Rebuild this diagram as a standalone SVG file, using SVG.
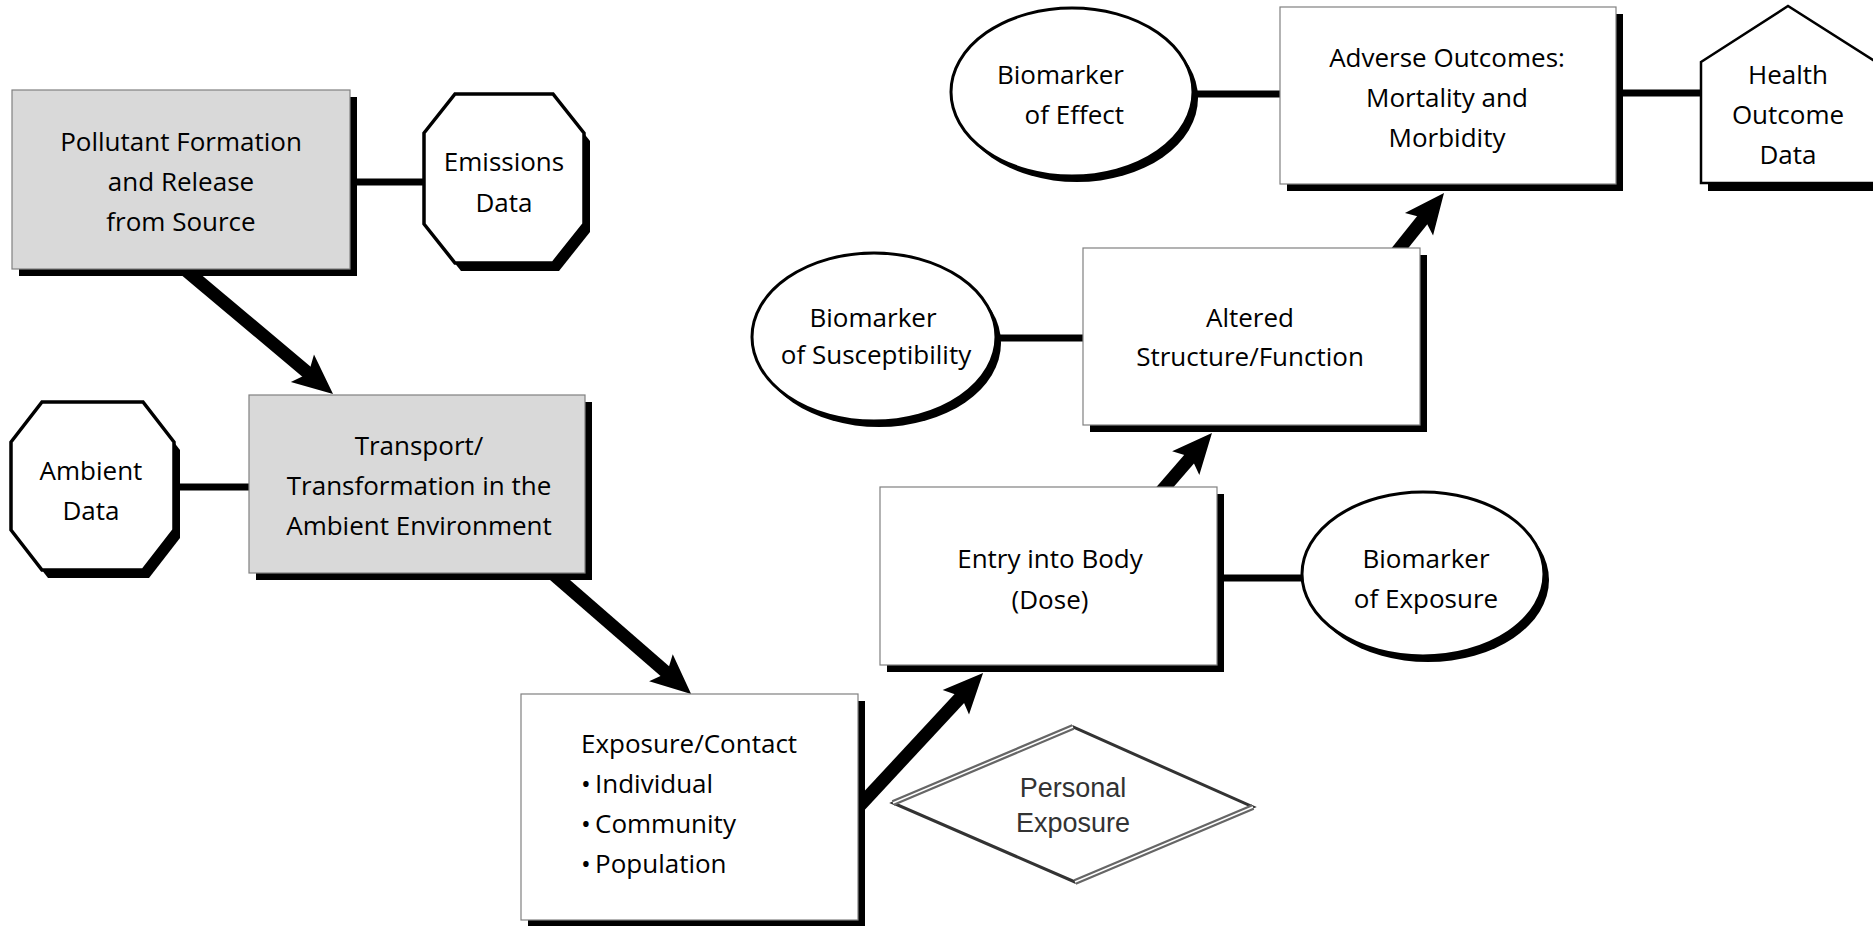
<svg xmlns="http://www.w3.org/2000/svg" width="1873" height="926" viewBox="0 0 1873 926">
<defs>
<style>
.box{fill:#fff;stroke:#808080;stroke-width:1.2}
.gray{fill:#d9d9d9}
.sh{fill:#000}
.oct{fill:#fff;stroke:#000;stroke-width:3.5}
.ell{fill:#fff;stroke:#000;stroke-width:3}
.house{fill:#fff;stroke:#000;stroke-width:2.5}
.link{stroke:#000;stroke-width:7;fill:none}
.arrow{stroke:#000;stroke-width:13;fill:none;marker-end:url(#ah)}
.t{font-family:"Open Sans","Liberation Sans",sans-serif;font-size:26px;fill:#000;text-anchor:middle}
.tl{text-anchor:start}
.tr{text-anchor:end}
.pe{font-family:"Liberation Sans",Arial,sans-serif;font-size:27px;fill:#333;text-anchor:middle}
</style>
<marker id="ah" markerUnits="userSpaceOnUse" viewBox="-14 -20 44 40" markerWidth="44" markerHeight="40" refX="0" refY="0" orient="auto">
<path d="M28,0 L-12,-18 L-4,0 L-12,18 Z" fill="#000"/>
</marker>
</defs>
<rect x="0" y="0" width="1873" height="926" fill="#fff"/>

<g id="connectors">
<line class="link" x1="340" y1="182" x2="430" y2="182"/>
<line class="link" x1="168" y1="487" x2="255" y2="487"/>
<line class="link" x1="1210" y1="578" x2="1308" y2="578"/>
<line class="link" x1="990" y1="338" x2="1090" y2="338"/>
<line class="link" x1="1188" y1="94" x2="1286" y2="94"/>
<line class="link" x1="1610" y1="93" x2="1707" y2="93"/>
<path class="arrow" d="M170,257 L311.6,376"/>
<path class="arrow" d="M537,560 L670,675.6"/>
<path class="arrow" d="M844.6,822 L964,693.5"/>
<path class="arrow" d="M1152,502 L1193.6,454.1"/>
<path class="arrow" d="M1387.5,263.6 L1426.5,214.9"/>
</g>

<g id="pollutant">
<rect class="sh" x="19" y="97" width="338" height="179"/>
<rect class="box gray" x="12" y="90" width="338" height="179"/>
<text class="t" x="181" y="151">Pollutant Formation</text>
<text class="t" x="181" y="191">and Release</text>
<text class="t" x="181" y="231">from Source</text>
</g>

<g id="emissions">
<polygon class="sh" transform="translate(6,8)" points="455,94 553,94 584,133 584,224 553,263 455,263 424,224 424,133"/>
<polygon class="oct" points="455,94 553,94 584,133 584,224 553,263 455,263 424,224 424,133"/>
<text class="t" x="504" y="171">Emissions</text>
<text class="t" x="504" y="212">Data</text>
</g>

<g id="transport">
<rect class="sh" x="256" y="402" width="336" height="178"/>
<rect class="box gray" x="249" y="395" width="336" height="178"/>
<text class="t" x="419" y="455">Transport/</text>
<text class="t" x="419" y="495">Transformation in the</text>
<text class="t" x="419" y="535">Ambient Environment</text>
</g>

<g id="ambient">
<polygon class="sh" transform="translate(6,8)" points="42,402 143,402 174,442 174,530 143,570 42,570 11,530 11,442"/>
<polygon class="oct" points="42,402 143,402 174,442 174,530 143,570 42,570 11,530 11,442"/>
<text class="t" x="91" y="480">Ambient</text>
<text class="t" x="91" y="520">Data</text>
</g>

<g id="exposure-contact">
<rect class="sh" x="528" y="701" width="337" height="226"/>
<rect class="box" x="521" y="694" width="337" height="226"/>
<text class="t tl" x="581" y="753">Exposure/Contact</text>
<text class="t tl" y="793"><tspan x="581">•</tspan><tspan x="595">Individual</tspan></text>
<text class="t tl" y="833"><tspan x="581">•</tspan><tspan x="595">Community</tspan></text>
<text class="t tl" y="873"><tspan x="581">•</tspan><tspan x="595">Population</tspan></text>
</g>

<g id="personal-exposure">
<polygon points="893,803 1073,727 1253,807 1075,882" fill="#fff" stroke="#333" stroke-width="3"/>
<path d="M893,803 L1073,727 M1253,807 L1075,882" stroke="#666" stroke-width="6" fill="none"/>
<path d="M893,803 L1073,727 M1253,807 L1075,882" stroke="#fff" stroke-width="1.5" fill="none"/>
<text class="pe" x="1073" y="797">Personal</text>
<text class="pe" x="1073" y="832">Exposure</text>
</g>

<g id="entry">
<rect class="sh" x="887" y="494" width="337" height="178"/>
<rect class="box" x="880" y="487" width="337" height="178"/>
<text class="t" x="1050" y="568">Entry into Body</text>
<text class="t" x="1050" y="609">(Dose)</text>
</g>

<g id="biomarker-exposure">
<ellipse class="sh" cx="1428" cy="580" rx="121" ry="82"/>
<ellipse class="ell" cx="1423" cy="574" rx="121" ry="82"/>
<text class="t" x="1426" y="568">Biomarker</text>
<text class="t" x="1426" y="608">of Exposure</text>
</g>

<g id="altered">
<rect class="sh" x="1090" y="255" width="337" height="177"/>
<rect class="box" x="1083" y="248" width="337" height="177"/>
<text class="t" x="1250" y="327">Altered</text>
<text class="t" x="1250" y="366">Structure/Function</text>
</g>

<g id="biomarker-susceptibility">
<ellipse class="sh" cx="879" cy="343" rx="122" ry="84"/>
<ellipse class="ell" cx="874" cy="337" rx="122" ry="84"/>
<text class="t" x="873" y="327">Biomarker</text>
<text class="t" x="876" y="364">of Susceptibility</text>
</g>

<g id="adverse">
<rect class="sh" x="1287" y="14" width="336" height="177"/>
<rect class="box" x="1280" y="7" width="336" height="177"/>
<text class="t" x="1447" y="67">Adverse Outcomes:</text>
<text class="t" x="1447" y="107">Mortality and</text>
<text class="t" x="1447" y="147">Morbidity</text>
</g>

<g id="biomarker-effect">
<ellipse class="sh" cx="1077" cy="98" rx="121" ry="84"/>
<ellipse class="ell" cx="1072" cy="92" rx="121" ry="84"/>
<text class="t tr" x="1124" y="84">Biomarker</text>
<text class="t tr" x="1124" y="124">of Effect</text>
</g>

<g id="health-outcome">
<polygon class="sh" transform="translate(7,8)" points="1701,62 1788,6 1876,62 1876,183 1701,183"/>
<polygon class="house" points="1701,62 1788,6 1876,62 1876,183 1701,183"/>
<text class="t" x="1788" y="84">Health</text>
<text class="t" x="1788" y="124">Outcome</text>
<text class="t" x="1788" y="164">Data</text>
</g>
</svg>
